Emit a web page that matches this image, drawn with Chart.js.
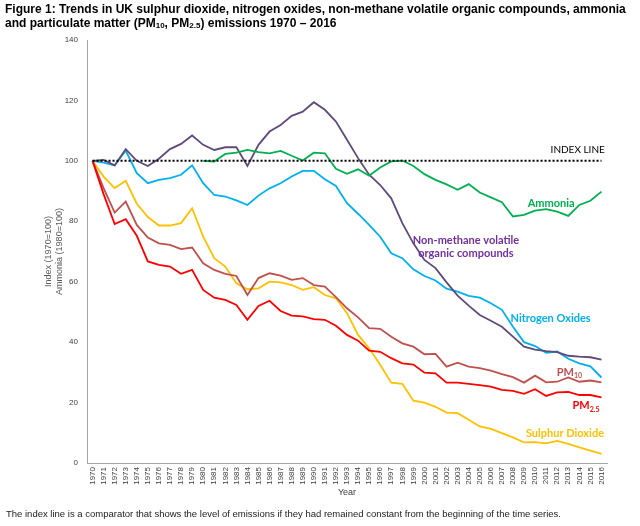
<!DOCTYPE html>
<html>
<head>
<meta charset="utf-8">
<script src="https://cdn.jsdelivr.net/npm/chart.js@4.4.1/dist/chart.umd.min.js"></script>
<style>
  body { margin: 0; background: #fff; }
  #wrap { position: relative; width: 640px; height: 526px; }
  #title { position: absolute; left: 5px; top: 2px; font: bold 12px "Liberation Sans", Arial, sans-serif; line-height: 14px; color: #000; white-space: nowrap; }
  #title sub { font-size: 8px; vertical-align: -1px; line-height: 0; }
  #note { position: absolute; left: 6px; top: 508px; font: 9.5px "Liberation Sans", Arial, sans-serif; color: #222; white-space: nowrap; }
  canvas { position: absolute; left: 0; top: 0; }
</style>
</head>
<body>
<div id="wrap">
  <canvas id="emChart" width="640" height="526"></canvas>
  <div id="title">Figure 1: Trends in UK sulphur dioxide, nitrogen oxides, non-methane volatile organic compounds, ammonia<br>and particulate matter (PM<sub>10</sub>, PM<sub>2.5</sub>) emissions 1970 – 2016</div>
  <div id="note">The index line is a comparator that shows the level of emissions if they had remained constant from the beginning of the time series.</div>
</div>
<script>
// Năm (trục x)
const years = ['1970','1971','1972','1973','1974','1975','1976','1977','1978','1979',
  '1980','1981','1982','1983','1984','1985','1986','1987','1988','1989',
  '1990','1991','1992','1993','1994','1995','1996','1997','1998','1999',
  '2000','2001','2002','2003','2004','2005','2006','2007','2008','2009',
  '2010','2011','2012','2013','2014','2015','2016'];

// Chỉ số phát thải (1970 = 100, ammonia 1980 = 100)
const sulphurDioxide = [100, 94.8, 91, 93.4, 85.8, 81.4, 78.6, 78.6, 79.4, 84.3,
  74.9, 67.8, 65, 59.5, 57.5, 57.8, 60, 59.8, 58.9, 57.3,
  58.2, 55.6, 54.5, 49.6, 42.4, 38, 32.5, 26.6, 26.2, 20.6,
  20, 18.6, 16.7, 16.5, 14.3, 12.1, 11.3, 9.9, 8.5, 6.8,
  6.9, 6.5, 7.3, 6.3, 5.2, 4.1, 3];
const pm10 = [100, 91, 82.9, 86.5, 78.8, 74.6, 72.7, 72.2, 70.8, 71.3,
  66.1, 63.9, 62.6, 61.9, 55.6, 61.2, 62.8, 62, 60.6, 61.2,
  58.9, 58.4, 54.9, 51.2, 48.2, 44.6, 44.4, 41.8, 39.6, 38.5,
  36, 36.1, 31.9, 33.2, 31.9, 31.4, 30.6, 29.4, 28.4, 26.6,
  28.9, 26.7, 26.9, 28.3, 26.9, 27.3, 26.7];
const pm25 = [100, 89, 79.1, 80.7, 75.2, 66.7, 65.6, 65, 62.6, 63.9,
  57.3, 54.7, 54, 52.3, 47.4, 52, 53.7, 50.3, 48.8, 48.5,
  47.6, 47.4, 45.4, 42.4, 40.5, 37.2, 36.8, 34.7, 33, 32.6,
  29.9, 29.7, 26.6, 26.6, 26.2, 25.8, 25.3, 24.2, 23.9, 22.9,
  24.4, 22.2, 23.4, 23.5, 22.5, 22.5, 21.7];
const nitrogenOxides = [100, 99.4, 98.5, 103.4, 95.9, 92.6, 93.7, 94.3, 95.4, 98.5,
  92.6, 88.7, 88.2, 86.9, 85.4, 88.5, 90.9, 92.6, 94.8, 96.7,
  96.7, 93.9, 91.7, 86, 82.5, 78.8, 74.9, 69.4, 67.8, 64.1,
  61.9, 60.4, 57.7, 56.7, 55.3, 54.7, 52.9, 50.7, 45.1, 40,
  38.7, 36.5, 36.9, 34.5, 33, 32, 28.3];
const nmvoc = [100, 100.3, 98.5, 103.9, 100, 98.3, 100.7, 103.9, 105.6, 108.4,
  105.3, 103.6, 104.5, 104.5, 98.3, 105.3, 109.7, 111.9, 114.9, 116.3,
  119.4, 116.9, 113, 107, 100.9, 95.4, 92, 87.6, 79.4, 72.7,
  67.2, 64.5, 59.8, 55.4, 52.1, 49, 47.1, 45.1, 41.8, 38.5,
  37.5, 37, 36.7, 35.5, 35.2, 35, 34.2];
const ammonia = [null, null, null, null, null, null, null, null, null, null,
  100, 99.8, 102.3, 102.7, 103.6, 102.9, 102.5, 103.3, 101.7, 100.1,
  102.7, 102.5, 97.4, 95.7, 97.2, 95.1, 97.8, 99.8, 100.1, 98.3,
  95.6, 93.7, 92.2, 90.4, 92.3, 89.5, 87.9, 86.3, 81.6, 82.1,
  83.5, 84, 83.2, 81.8, 85.4, 86.8, 89.8];
const indexLine = [100, 100, 100, 100, 100, 100, 100, 100, 100, 100,
  100, 100, 100, 100, 100, 100, 100, 100, 100, 100,
  100, 100, 100, 100, 100, 100, 100, 100, 100, 100,
  100, 100, 100, 100, 100, 100, 100, 100, 100, 100,
  100, 100, 100, 100, 100, 100, 100];

// Nhãn ghi trực tiếp trên biểu đồ (vị trí theo chỉ số năm / giá trị)
const seriesLabels = [
  { text: 'INDEX LINE', at: 46.3, val: 103.6, color: '#000', font: '10px Lato', align: 'right' },
  { text: 'Ammonia', at: 41.45, val: 85.8, color: '#00b050', font: 'bold 11px Lato' },
  { text: 'Non-methane volatile', at: 33.75, val: 73.5, color: '#7030a0', font: 'bold 11px Lato' },
  { text: 'organic compounds', at: 33.75, val: 69.2, color: '#7030a0', font: 'bold 11px Lato' },
  { text: 'Nitrogen Oxides', at: 41.4, val: 48, color: '#00b0f0', font: 'bold 11px Lato' },
  { text: 'PM', sub: '10', at: 43.1, val: 30.1, color: '#c0504d', font: 'bold 11px Lato' },
  { text: 'PM', sub: '2.5', at: 44.6, val: 18.9, color: '#ff0000', font: 'bold 11px Lato' },
  { text: 'Sulphur Dioxide', at: 42.7, val: 9.9, color: '#ffc000', font: 'bold 11px Lato' }
];

const labelPlugin = {
  id: 'seriesLabels',
  afterDatasetsDraw(chart) {
    const { ctx, scales: { x, y } } = chart;
    ctx.save();
    ctx.textBaseline = 'middle';
    seriesLabels.forEach(function (l) {
      const px = x.getPixelForValue(l.at);
      const py = y.getPixelForValue(l.val);
      ctx.font = l.font;
      const w1 = ctx.measureText(l.text).width;
      let w2 = 0;
      if (l.sub) {
        ctx.font = 'bold 7px Lato';
        w2 = ctx.measureText(l.sub).width;
      }
      const total = w1 + w2;
      let sx = px - total / 2;
      if (l.align === 'right') sx = px - total;
      ctx.fillStyle = l.color;
      ctx.textAlign = 'left';
      ctx.font = l.font;
      ctx.fillText(l.text, sx, py);
      if (l.sub) {
        ctx.font = 'bold 7px Lato';
        ctx.fillText(l.sub, sx + w1, py + 4);
      }
    });
    ctx.restore();
  }
};

function lineSet(label, data, color, order) {
  return {
    label: label,
    data: data,
    borderColor: color,
    backgroundColor: color,
    borderWidth: 1.8,
    pointRadius: 0,
    tension: 0,
    fill: false,
    order: order
  };
}

const ctx = document.getElementById('emChart').getContext('2d');
const emChart = new Chart(ctx, {
  type: 'line',
  data: {
    labels: years,
    datasets: [
      lineSet('Sulphur Dioxide', sulphurDioxide, '#ffc000', 6),
      lineSet('PM10', pm10, '#c0504d', 5),
      lineSet('PM2.5', pm25, '#ff0000', 4),
      lineSet('Nitrogen Oxides', nitrogenOxides, '#00b0f0', 3),
      lineSet('Non-methane volatile organic compounds', nmvoc, '#604a7b', 2),
      lineSet('Ammonia', ammonia, '#00b050', 1),
      {
        label: 'Index line',
        data: indexLine,
        borderColor: '#000',
        borderWidth: 2,
        borderDash: [2, 2],
        pointRadius: 0,
        fill: false,
        order: 0
      }
    ]
  },
  options: {
    responsive: false,
    animation: false,
    layout: { padding: { left: 43, right: 33, top: 40, bottom: 28 } },
    plugins: {
      legend: { display: false },
      tooltip: { enabled: false }
    },
    scales: {
      x: {
        offset: true,
        grid: { display: false, drawTicks: false },
        border: { display: true, color: '#a6a6a6', width: 1 },
        ticks: {
          autoSkip: false,
          minRotation: 90,
          maxRotation: 90,
          padding: 4,
          color: '#404040',
          font: { family: 'Liberation Sans', size: 8 }
        },
        title: {
          display: true,
          text: 'Year',
          color: '#404040',
          padding: 0,
          font: { family: 'Liberation Sans', size: 9 }
        },
        afterFit(scale) { scale.height = 35; }
      },
      y: {
        min: 0,
        max: 140,
        grid: { display: false, drawTicks: false },
        border: { display: true, color: '#a6a6a6', width: 1 },
        ticks: {
          stepSize: 20,
          padding: 9,
          color: '#404040',
          font: { family: 'Liberation Sans', size: 8 }
        },
        title: {
          display: true,
          text: ['Index (1970=100)', 'Ammonia (1980=100)'],
          color: '#595959',
          padding: 0,
          font: { family: 'Liberation Sans', size: 9 }
        },
        afterFit(scale) { scale.width = 44; }
      }
    }
  },
  plugins: [labelPlugin]
});
</script>
</body>
</html>
